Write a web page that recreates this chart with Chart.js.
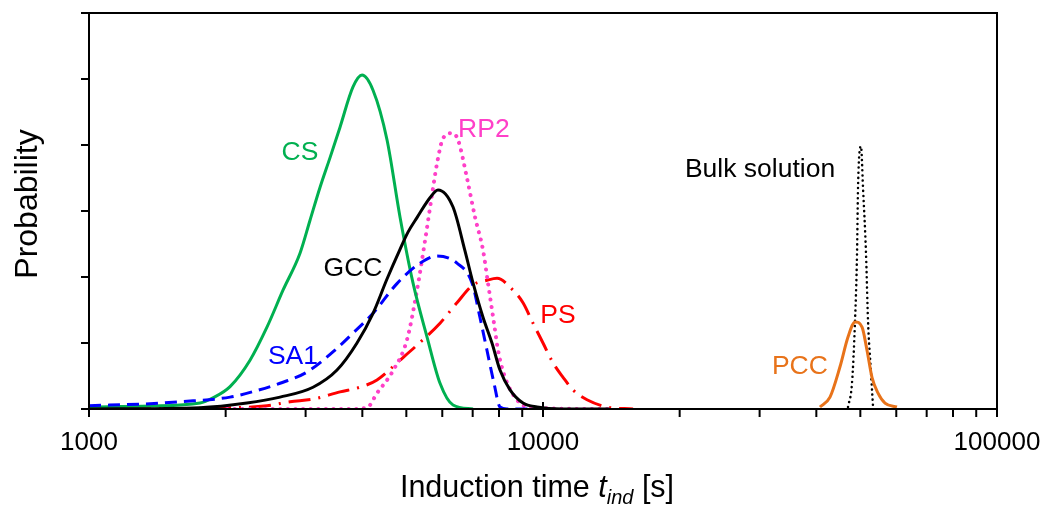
<!DOCTYPE html>
<html>
<head>
<meta charset="utf-8">
<script src="https://cdn.jsdelivr.net/npm/chart.js@4.4.1/dist/chart.umd.min.js"></script>
<style>
  html, body { margin: 0; padding: 0; background: #fff; }
</style>
</head>
<body>
<canvas id="chart" width="1050" height="506"></canvas>
<script>
// induction time [s] and probability (arbitrary units)
const csT = [1000, 1363, 1756, 1875, 2045, 2263, 2466, 2675, 2916, 3068, 3228, 3400, 3572, 3815, 3994, 4223, 4533, 4842, 5172, 5554, 5932, 6336, 7013];
const csP = [0.03, 0.045, 0.09, 0.17, 0.34, 0.74, 1.24, 1.80, 2.36, 2.86, 3.36, 3.82, 4.27, 4.88, 5.06, 4.83, 4.08, 2.91, 1.91, 1.09, 0.39, 0.06, 0.0];

const gccT = [1000, 1756, 2228, 2635, 3115, 3518, 3893, 4223, 4533, 4842, 5043, 5278, 5637, 5871, 6336, 6730, 7013, 7376, 7720, 8040, 8460, 9036, 9700, 11000, 14000];
const gccP = [0.0, 0.02, 0.09, 0.18, 0.33, 0.59, 1.0, 1.45, 1.97, 2.42, 2.68, 2.9, 3.2, 3.32, 3.06, 2.4, 1.91, 1.39, 1.0, 0.59, 0.29, 0.09, 0.03, 0.0, 0.0];

const sa1T = [1000, 1363, 1586, 2045, 2344, 2635, 3021, 3518, 3815, 4223, 4768, 5359, 5842, 6464, 6977, 7262, 7526, 7800, 8040, 8332, 10000];
const sa1P = [0.05, 0.08, 0.11, 0.18, 0.28, 0.39, 0.56, 0.92, 1.15, 1.45, 1.9, 2.21, 2.32, 2.21, 1.91, 1.39, 0.89, 0.39, 0.03, 0.0, 0.0];

const rp2T = [2014, 3757, 4097, 4309, 4674, 5017, 5278, 5497, 5696, 5842, 6022, 6303, 6497, 6801, 7083, 7376, 7565, 7800, 7961, 8248, 8760, 9363, 13840];
const rp2P = [0.0, 0.0, 0.02, 0.24, 0.58, 1.05, 1.80, 2.55, 3.25, 3.72, 4.10, 4.18, 4.08, 3.5, 2.91, 2.41, 1.91, 1.30, 0.89, 0.48, 0.14, 0.02, 0.0];

const psT = [1000, 1756, 2466, 2772, 3115, 3572, 3953, 4309, 4842, 5441, 5932, 6464, 7013, 7526, 7920, 8590, 9036, 9506, 10000, 10520, 11070, 11640, 12500, 13840, 15790];
const psP = [0.0, 0.01, 0.05, 0.11, 0.15, 0.26, 0.33, 0.44, 0.74, 1.05, 1.30, 1.61, 1.88, 1.95, 1.98, 1.80, 1.61, 1.30, 1.0, 0.70, 0.48, 0.29, 0.14, 0.03, 0.0];

const pccT = [40740, 42870, 45100, 46970, 48680, 50440, 51720, 53040, 54690, 56660, 60200];
const pccP = [0.03, 0.18, 0.64, 1.09, 1.32, 1.24, 0.89, 0.48, 0.24, 0.09, 0.03];

const bulkT = [46970, 47930, 48680, 49170, 49420, 50170, 50680, 51460, 51980, 52780, 53330];
const bulkP = [0.03, 0.39, 1.35, 2.36, 3.36, 3.98, 3.36, 2.36, 1.35, 0.55, 0.03];

const xTicks = [1000, 10000, 100000];
const xMinorTicks = [2000, 3000, 4000, 5000, 6000, 7000, 8000, 9000, 20000, 30000, 40000, 50000, 60000, 70000, 80000, 90000];
const yTicks = [0, 1, 2, 3, 4, 5, 6];

const FONT = '"Liberation Sans", Arial, sans-serif';

const toPoints = (ts, ps) => ts.map((t, i) => ({ x: t, y: ps[i] }));

const series = (label, ts, ps, color, extra) => Object.assign({
  label,
  data: toPoints(ts, ps),
  borderColor: color,
  borderWidth: 3,
  pointRadius: 0,
  fill: false,
  cubicInterpolationMode: 'monotone',
  // where the curve's name sits, in data units
  tag: null,
}, extra);

const datasets = [
  series('GCC', gccT, gccP, '#000000', { tag: [3815, 2.12] }),
  series('SA1', sa1T, sa1P, '#0000ff', { borderDash: [12, 7], tag: [2814, 0.80] }),
  series('CS', csT, csP, '#00b050', { tag: [2916, 3.89] }),
  series('RP2', rp2T, rp2P, '#ff40c8', { borderDash: [0.1, 7.5], borderCapStyle: 'round', borderWidth: 4, tag: [7410, 4.23] }),
  series('PS', psT, psP, '#ff0000', { borderDash: [22, 8, 2, 8], tag: [10790, 1.41] }),
  series('PCC', pccT, pccP, '#e8731a', { tag: [36800, 0.64] }),
  series('Bulk solution', bulkT, bulkP, '#000000', { borderDash: [0.1, 5], borderCapStyle: 'round', borderWidth: 2.5, tag: [30060, 3.62] }),
];

const decorations = {
  id: 'decorations',
  afterDatasetsDraw(chart) {
    const { ctx, chartArea: a, scales: { x, y } } = chart;
    ctx.save();
    ctx.strokeStyle = '#000';
    ctx.lineWidth = 2;
    ctx.setLineDash([]);
    ctx.strokeRect(a.left, a.top, a.right - a.left, a.bottom - a.top);

    ctx.beginPath();
    yTicks.forEach(v => {
      const py = y.getPixelForValue(v);
      ctx.moveTo(a.left - 8, py); ctx.lineTo(a.left, py);
    });
    xMinorTicks.forEach(v => {
      const px = x.getPixelForValue(v);
      ctx.moveTo(px, a.bottom); ctx.lineTo(px, a.bottom + 8);
    });
    xTicks.forEach(v => {
      const px = x.getPixelForValue(v);
      ctx.moveTo(px, a.bottom - 7); ctx.lineTo(px, a.bottom + 8);
    });
    ctx.stroke();

    // curve names
    ctx.font = '26.5px ' + FONT;
    ctx.textAlign = 'center';
    ctx.textBaseline = 'middle';
    chart.data.datasets.forEach(ds => {
      if (!ds.tag) return;
      ctx.fillStyle = ds.borderColor;
      ctx.fillText(ds.label, x.getPixelForValue(ds.tag[0]), y.getPixelForValue(ds.tag[1]));
    });

    // y title
    ctx.fillStyle = '#000';
    ctx.save();
    ctx.translate(28, (a.top + a.bottom) / 2 - 7);
    ctx.rotate(-Math.PI / 2);
    ctx.font = '32px ' + FONT;
    ctx.fillText('Probability', 0, 0);
    ctx.restore();

    // x title with italic subscript
    const parts = [
      { text: 'Induction time ', font: '30.5px ' + FONT, dy: 0 },
      { text: 't', font: 'italic 30.5px ' + FONT, dy: 0 },
      { text: 'ind', font: 'italic 20px ' + FONT, dy: 7 },
      { text: ' [s]', font: '30.5px ' + FONT, dy: 0 },
    ];
    let total = 0;
    parts.forEach(p => { ctx.font = p.font; p.w = ctx.measureText(p.text).width; total += p.w; });
    let cx = (a.left + a.right) / 2 - 6 - total / 2;
    ctx.textAlign = 'left';
    ctx.textBaseline = 'alphabetic';
    parts.forEach(p => {
      ctx.font = p.font;
      ctx.fillText(p.text, cx, 497 + p.dy);
      cx += p.w;
    });
    ctx.restore();
  }
};

new Chart(document.getElementById('chart'), {
  type: 'line',
  data: { datasets },
  plugins: [decorations],
  options: {
    responsive: false,
    animation: false,
    layout: { padding: { left: 0, right: 53, top: 13, bottom: 0 } },
    plugins: { legend: { display: false }, tooltip: { enabled: false } },
    scales: {
      x: {
        type: 'logarithmic',
        min: 1000,
        max: 100000,
        afterBuildTicks: s => { s.ticks = xTicks.map(v => ({ value: v })); },
        afterFit: s => { s.height = 97; s.paddingLeft = 0; s.paddingRight = 0; },
        ticks: {
          callback: v => String(v),
          color: '#000',
          font: { family: FONT, size: 26 },
          padding: 18,
          autoSkip: false,
          maxRotation: 0,
        },
        grid: { display: false, drawTicks: false },
        border: { display: false },
      },
      y: {
        min: 0,
        max: 6,
        afterFit: s => { s.width = 89; s.paddingTop = 0; s.paddingBottom = 0; },
        ticks: { display: false },
        grid: { display: false, drawTicks: false },
        border: { display: false },
      },
    },
  },
});
</script>
</body>
</html>
